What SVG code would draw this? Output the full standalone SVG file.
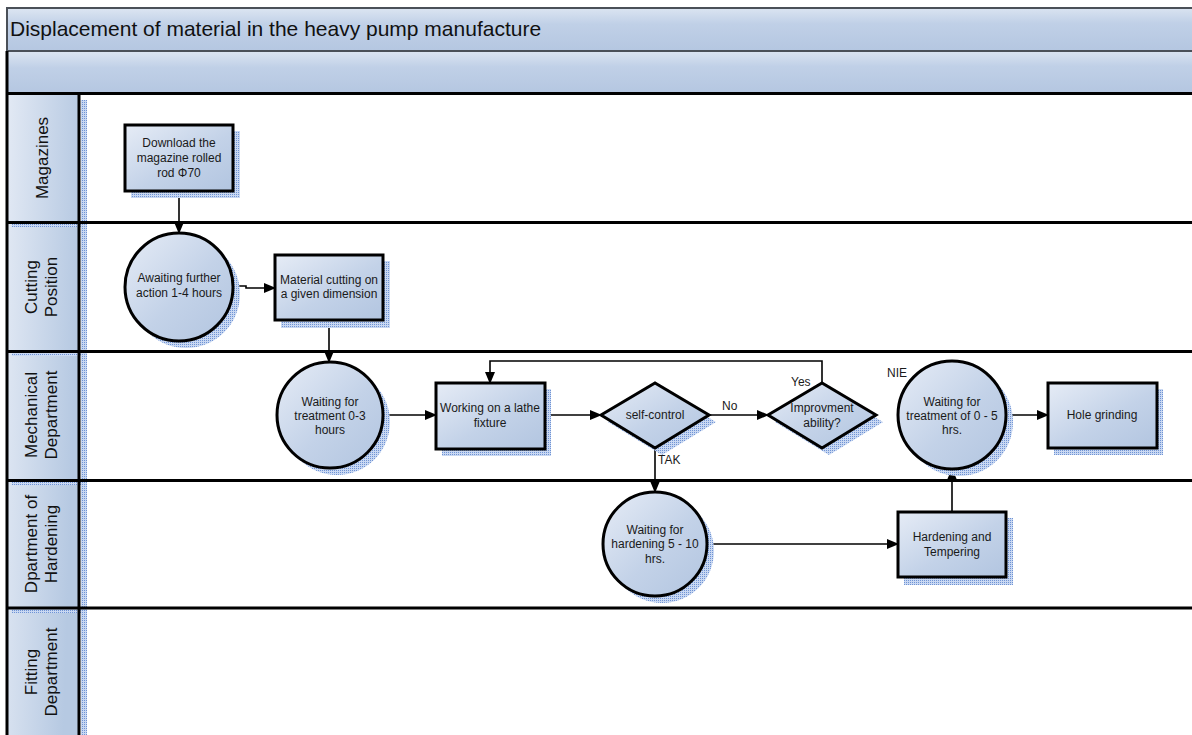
<svg xmlns="http://www.w3.org/2000/svg" width="1192" height="735" viewBox="0 0 1192 735">
  <defs>
    <linearGradient id="nodeFill" x1="0" y1="0" x2="1" y2="1">
      <stop offset="0" stop-color="#e6ecf6"/>
      <stop offset="0.55" stop-color="#c3d2e8"/>
      <stop offset="1" stop-color="#b2c5e0"/>
    </linearGradient>
    <linearGradient id="laneFill" x1="0" y1="0" x2="1" y2="0.3">
      <stop offset="0" stop-color="#e2e9f4"/>
      <stop offset="1" stop-color="#b6c9e2"/>
    </linearGradient>
    <linearGradient id="barFill" x1="0" y1="0" x2="0.05" y2="1">
      <stop offset="0" stop-color="#dde6f2"/>
      <stop offset="0.4" stop-color="#c0d0e7"/>
      <stop offset="1" stop-color="#b5c7e1"/>
    </linearGradient>
    <pattern id="hatch" width="2" height="2" patternUnits="userSpaceOnUse">
      <rect width="2" height="2" fill="#c9d8f2"/>
      <rect width="1" height="1" fill="#6f93d4"/>
    </pattern>
    <marker id="arrow" markerWidth="12" markerHeight="10" refX="11" refY="5" orient="auto" markerUnits="userSpaceOnUse">
      <path d="M0,0 L12,5 L0,10 z" fill="#000"/>
    </marker>
    <style>
      .node { fill: url(#nodeFill); stroke: #000; stroke-width: 3; }
      .shadow { fill: url(#hatch); }
      .txt { font-family: "Liberation Sans", Arial, sans-serif; font-size: 12px; fill: #1a1a1a; text-anchor: middle; }
      .lbl { font-family: "Liberation Sans", Arial, sans-serif; font-size: 12px; fill: #1a1a1a; }
      .lane { font-family: "Liberation Sans", Arial, sans-serif; font-size: 17px; fill: #111; text-anchor: middle; }
      .conn { fill: none; stroke: #000; stroke-width: 1.6; marker-end: url(#arrow); }
      .sep { stroke: #000; stroke-width: 3; }
    </style>
  </defs>

  <rect width="1192" height="735" fill="#fff"/>

  <!-- pool header -->
  <g id="header">
    <rect x="7" y="8" width="1190" height="43" fill="url(#barFill)" stroke="#4a5058" stroke-width="2"/>
    <rect x="7" y="51" width="1190" height="42" fill="url(#barFill)" stroke="#4a5058" stroke-width="2"/>
    <text x="10" y="36" font-family="'Liberation Sans', Arial, sans-serif" font-size="21" fill="#111">Displacement of material in the heavy pump manufacture</text>
  </g>

  <!-- lane label column -->
  <g id="lanes">
    <rect x="8" y="94" width="70" height="641" fill="url(#laneFill)"/>
    <rect x="81" y="100" width="6" height="635" class="shadow"/>
    <rect x="12" y="223" width="70" height="4" class="shadow"/>
    <rect x="12" y="352" width="70" height="4" class="shadow"/>
    <rect x="12" y="481" width="70" height="4" class="shadow"/>
    <rect x="12" y="609" width="70" height="4" class="shadow"/>
    <line x1="7" y1="51" x2="7" y2="735" stroke="#000" stroke-width="3"/>
    <line x1="79" y1="93" x2="79" y2="735" class="sep"/>
    <line x1="6" y1="93.5" x2="1192" y2="93.5" class="sep"/>
    <line x1="6" y1="222.5" x2="1192" y2="222.5" class="sep"/>
    <line x1="6" y1="351.5" x2="1192" y2="351.5" class="sep"/>
    <line x1="6" y1="480.5" x2="1192" y2="480.5" class="sep"/>
    <line x1="6" y1="608" x2="1192" y2="608" class="sep"/>
    <text class="lane" transform="translate(42,158) rotate(-90)" y="6">Magazines</text>
    <text class="lane" transform="translate(42,287) rotate(-90)"><tspan x="0" y="-5">Cutting</tspan><tspan x="0" y="15">Position</tspan></text>
    <text class="lane" transform="translate(42,415) rotate(-90)"><tspan x="0" y="-5">Mechanical</tspan><tspan x="0" y="15">Department</tspan></text>
    <text class="lane" transform="translate(42,544) rotate(-90)"><tspan x="0" y="-5">Dpartment of</tspan><tspan x="0" y="15">Hardening</tspan></text>
    <text class="lane" transform="translate(42,672) rotate(-90)"><tspan x="0" y="-5">Fitting</tspan><tspan x="0" y="15">Department</tspan></text>
  </g>

  <!-- connectors -->
  <g id="connectors">
    <path class="conn" d="M179,191 V233"/>
    <path class="conn" d="M233,286 H246 V288 H275"/>
    <path class="conn" d="M329,320 V362"/>
    <path class="conn" d="M385,415 H436"/>
    <path class="conn" d="M545,415 H601"/>
    <path class="conn" d="M709,415 H768"/>
    <path class="conn" d="M822,383 V361 H490 V383"/>
    <path class="conn" d="M655,448 V492"/>
    <path class="conn" d="M707,544 H898"/>
    <path class="conn" d="M952,512 V469"/>
    <path class="conn" d="M1007,415 H1048"/>
    <text class="lbl" x="722" y="410">No</text>
    <text class="lbl" x="791" y="386">Yes</text>
    <text class="lbl" x="658" y="464">TAK</text>
    <text class="lbl" x="887" y="377">NIE</text>
  </g>

  <!-- nodes -->
  <g id="download">
    <rect x="131" y="131" width="109" height="67" class="shadow"/>
    <rect x="125" y="125" width="108" height="66" class="node"/>
    <text class="txt"><tspan x="179" y="147">Download the</tspan><tspan x="179" y="162">magazine rolled</tspan><tspan x="179" y="177">rod Φ70</tspan></text>
  </g>
  <g id="await-action">
    <circle cx="186" cy="294" r="54" class="shadow"/>
    <circle cx="179" cy="287" r="54" class="node"/>
    <text class="txt"><tspan x="179" y="282">Awaiting further</tspan><tspan x="179" y="297">action 1-4 hours</tspan></text>
  </g>
  <g id="cutting">
    <rect x="281" y="261" width="109" height="67" class="shadow"/>
    <rect x="275" y="255" width="108" height="65" class="node"/>
    <text class="txt"><tspan x="329" y="284">Material cutting on</tspan><tspan x="329" y="298">a given dimension</tspan></text>
  </g>
  <g id="wait-treatment">
    <circle cx="337" cy="422" r="53" class="shadow"/>
    <circle cx="330" cy="415" r="53" class="node"/>
    <text class="txt"><tspan x="330" y="406">Waiting for</tspan><tspan x="330" y="420">treatment 0-3</tspan><tspan x="330" y="434">hours</tspan></text>
  </g>
  <g id="lathe">
    <rect x="442" y="389" width="109" height="67" class="shadow"/>
    <rect x="436" y="383" width="109" height="66" class="node"/>
    <text class="txt"><tspan x="490" y="412">Working on a lathe</tspan><tspan x="490" y="427">fixture</tspan></text>
  </g>
  <g id="self-control">
    <polygon points="608,422 662,390 716,422 662,455" class="shadow"/>
    <polygon points="601,415 655,383 709,415 655,448" class="node"/>
    <text class="txt" x="655" y="419">self-control</text>
  </g>
  <g id="improvement">
    <polygon points="775,422 829,390 883,422 829,455" class="shadow"/>
    <polygon points="768,415 822,383 876,415 822,448" class="node"/>
    <text class="txt"><tspan x="822" y="412">Improvment</tspan><tspan x="822" y="427">ability?</tspan></text>
  </g>
  <g id="wait-hardening">
    <circle cx="662" cy="551" r="52" class="shadow"/>
    <circle cx="655" cy="544" r="52" class="node"/>
    <text class="txt"><tspan x="655" y="534">Waiting for</tspan><tspan x="655" y="548">hardening 5 - 10</tspan><tspan x="655" y="563">hrs.</tspan></text>
  </g>
  <g id="hardening">
    <rect x="904" y="518" width="109" height="67" class="shadow"/>
    <rect x="898" y="512" width="108" height="65" class="node"/>
    <text class="txt"><tspan x="952" y="541">Hardening and</tspan><tspan x="952" y="556">Tempering</tspan></text>
  </g>
  <g id="wait-treatment-2">
    <circle cx="959" cy="422" r="54" class="shadow"/>
    <circle cx="952" cy="415" r="54" class="node"/>
    <text class="txt"><tspan x="952" y="406">Waiting for</tspan><tspan x="952" y="420">treatment of 0 - 5</tspan><tspan x="952" y="434">hrs.</tspan></text>
  </g>
  <g id="hole-grinding">
    <rect x="1054" y="389" width="109" height="66" class="shadow"/>
    <rect x="1048" y="383" width="109" height="65" class="node"/>
    <text class="txt" x="1102" y="419">Hole grinding</text>
  </g>
</svg>
